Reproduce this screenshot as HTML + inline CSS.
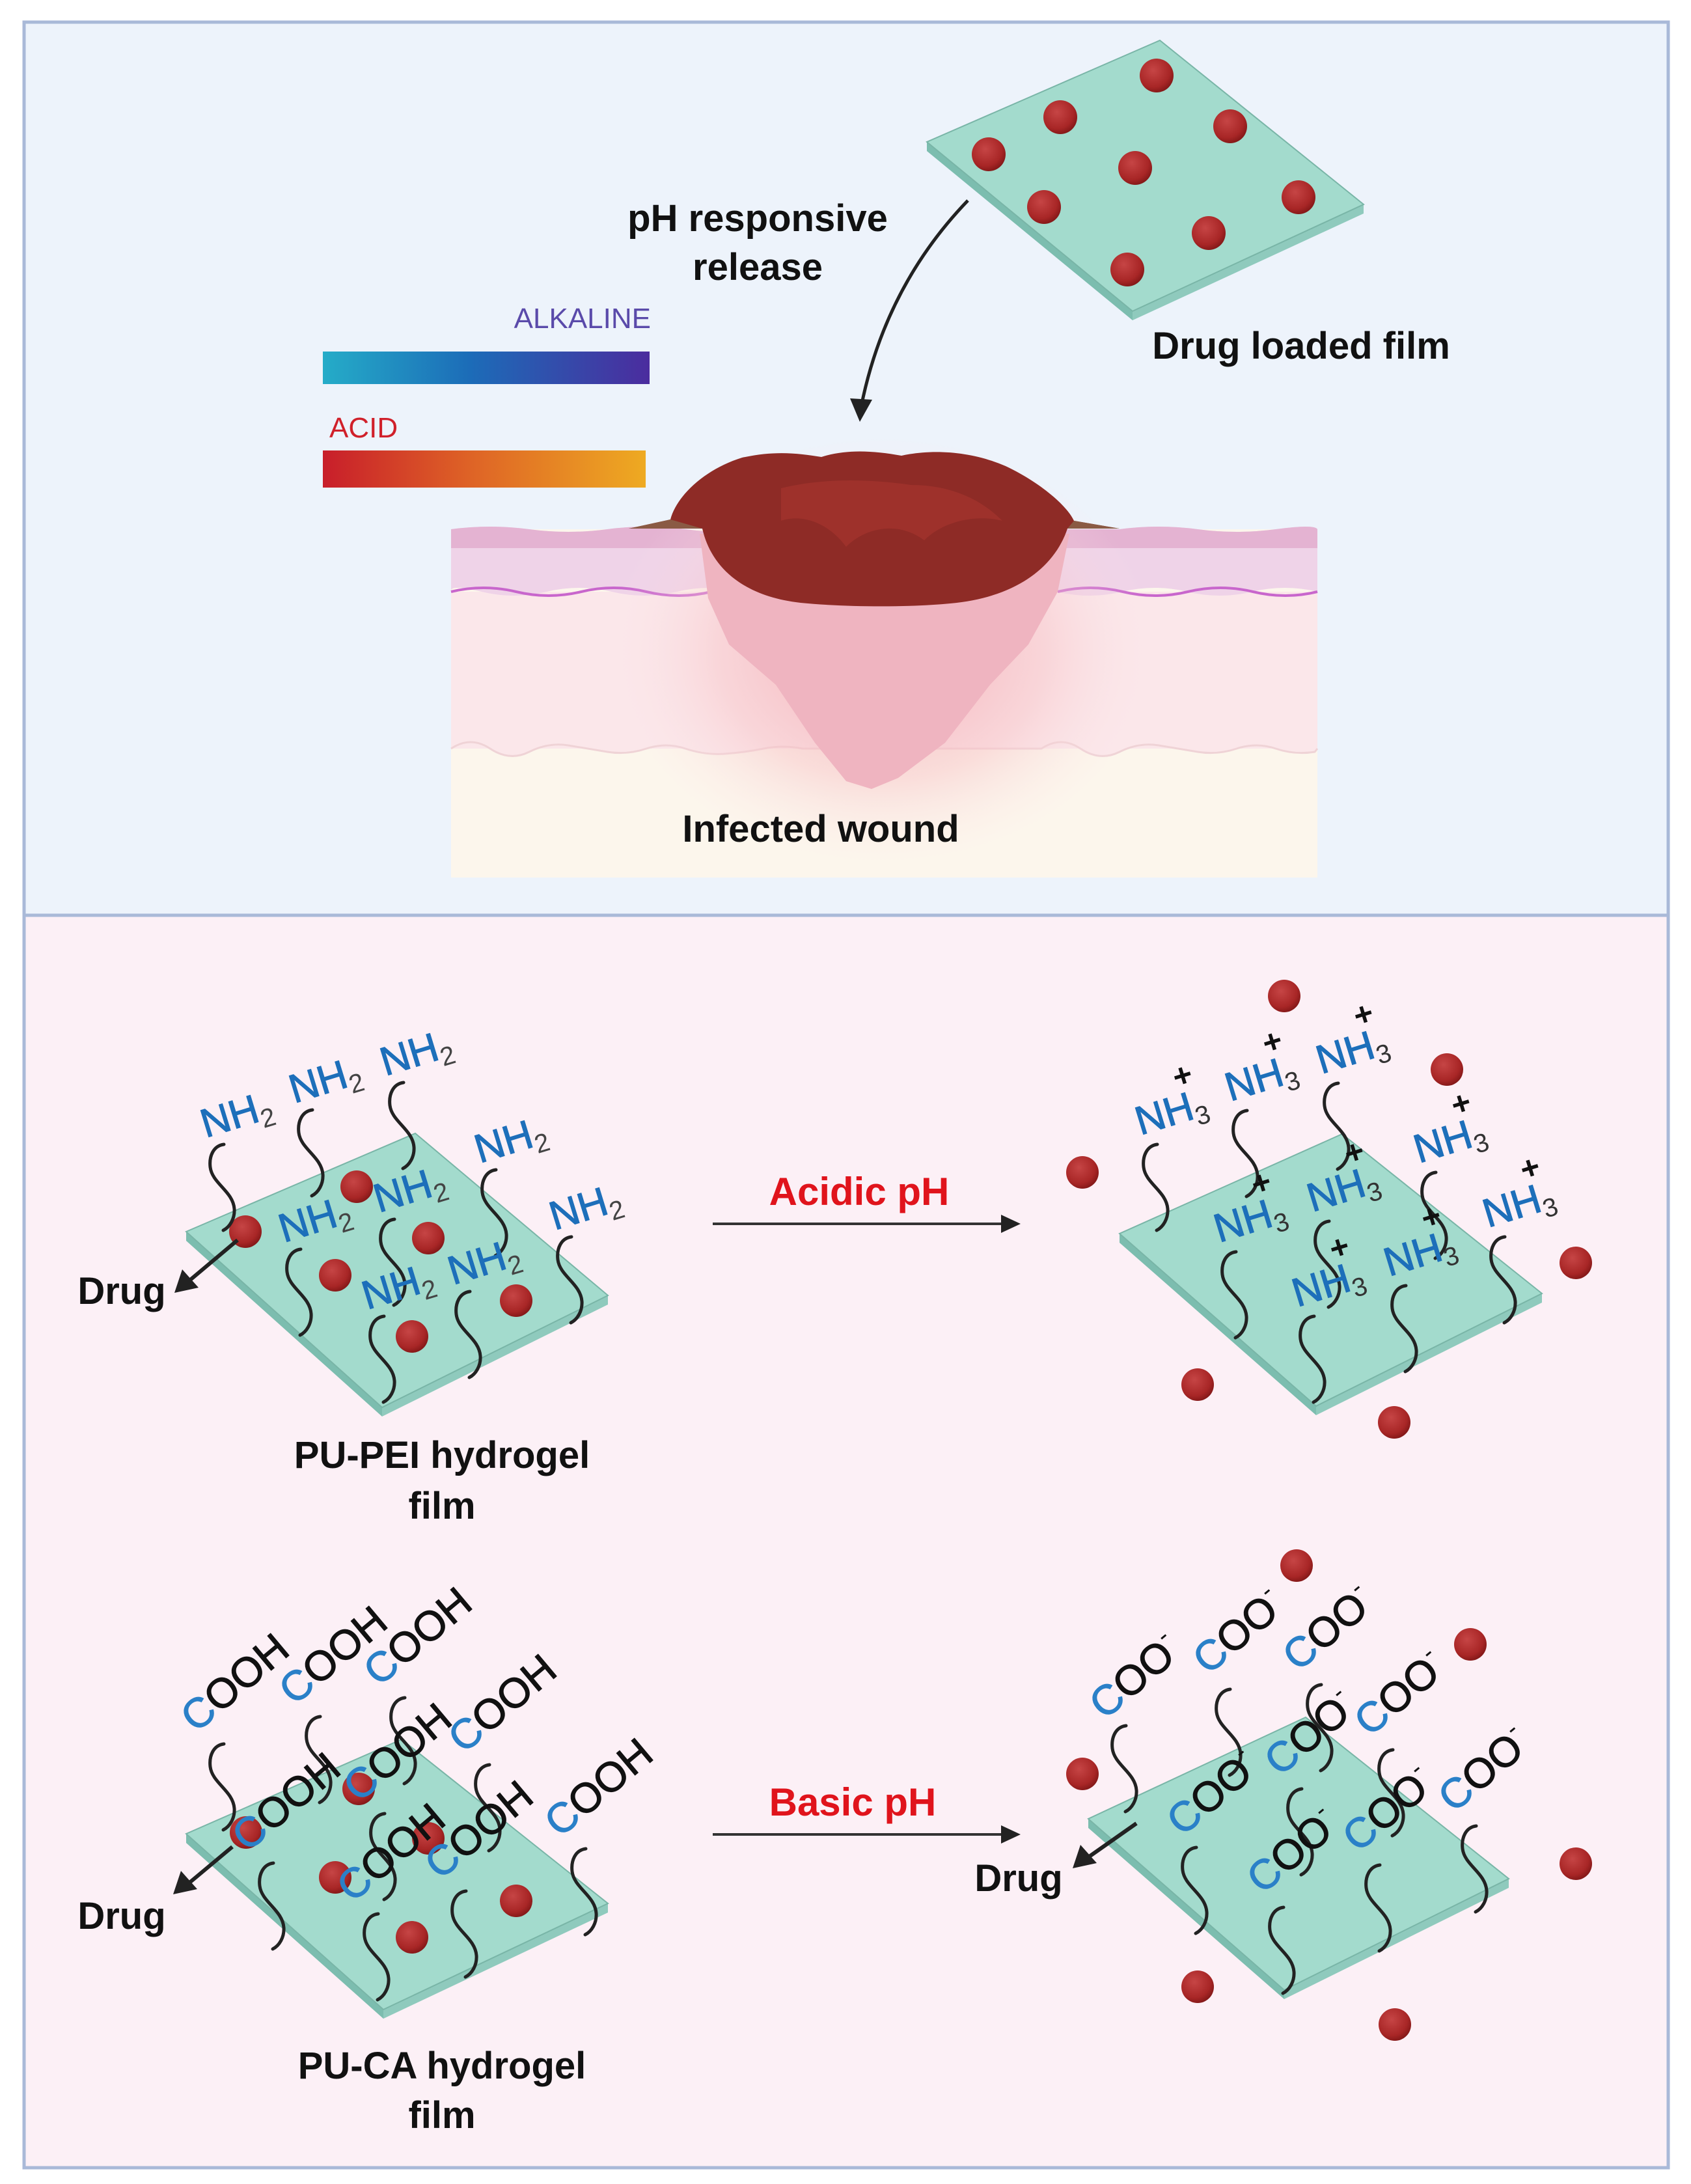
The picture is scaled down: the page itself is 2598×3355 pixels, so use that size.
<!DOCTYPE html>
<html><head><meta charset="utf-8"><style>
html,body{margin:0;padding:0;background:#fff}
svg{display:block}
text{font-family:"Liberation Sans",Arial,sans-serif}
.lb text{stroke-width:1.2px}
</style></head><body>
<svg width="2598" height="3355" viewBox="0 0 2598 3355" xmlns="http://www.w3.org/2000/svg">
<defs>
<linearGradient id="alk" x1="0" x2="1"><stop offset="0" stop-color="#25acc8"/><stop offset="0.45" stop-color="#1c6cb8"/><stop offset="1" stop-color="#4b2c9e"/></linearGradient>
<linearGradient id="acid" x1="0" x2="1"><stop offset="0" stop-color="#c81e2a"/><stop offset="0.45" stop-color="#de6226"/><stop offset="1" stop-color="#eeaa22"/></linearGradient>
<radialGradient id="dot" cx="0.4" cy="0.35" r="0.7"><stop offset="0" stop-color="#c64545"/><stop offset="0.7" stop-color="#a82626"/><stop offset="1" stop-color="#7e1616"/></radialGradient>
<radialGradient id="glow" cx="0.5" cy="0.5" r="0.5"><stop offset="0" stop-color="#f4a3ad" stop-opacity="0.9"/><stop offset="0.6" stop-color="#f7c4c8" stop-opacity="0.5"/><stop offset="1" stop-color="#fbe7ea" stop-opacity="0"/></radialGradient>
<path id="sq" d="M0,0 c-16,2 -23,18 -21,35 c3,25 35,37 37,64 c1,15 -7,28 -17,33" fill="none" stroke="#222" stroke-width="5" stroke-linecap="round"/>
</defs>

<rect x="37" y="34" width="2526" height="1372" fill="#edf3fb" stroke="#a9b9d8" stroke-width="5"/>
<rect x="37" y="1406" width="2526" height="1924" fill="#fcf0f6" stroke="#a9b9d8" stroke-width="5"/>

<!-- top film -->
<polygon points="1424,218 1740,478 1740,492 1424,232" fill="#7cbdaf"/>
<polygon points="1740,478 2095,314 2095,328 1740,492" fill="#8fcabd"/>
<polygon points="1782,62 2095,314 1740,478 1424,218" fill="#a3dbcd" stroke="#79b5a7" stroke-width="2"/>
<g fill="url(#dot)">
<circle cx="1777" cy="116" r="26"/><circle cx="1629" cy="180" r="26"/><circle cx="1890" cy="194" r="26"/>
<circle cx="1519" cy="237" r="26"/><circle cx="1744" cy="258" r="26"/><circle cx="1604" cy="318" r="26"/>
<circle cx="1995" cy="303" r="26"/><circle cx="1857" cy="358" r="26"/><circle cx="1732" cy="414" r="26"/>
</g>
<text x="1999" y="551" font-size="58" font-weight="bold" text-anchor="middle" fill="#111">Drug loaded film</text>
<text x="1164" y="355" font-size="58" font-weight="bold" text-anchor="middle" fill="#111">pH responsive</text>
<text x="1164" y="430" font-size="58" font-weight="bold" text-anchor="middle" fill="#111">release</text>
<path d="M1487,308 Q1360,440 1323,625" fill="none" stroke="#222" stroke-width="5"/>
<polygon points="1306,612 1340,614 1321,648" fill="#222"/>

<text x="1000" y="504" font-size="44" text-anchor="end" fill="#5a4aaa">ALKALINE</text>
<rect x="496" y="540" width="502" height="50" fill="url(#alk)"/>
<text x="506" y="672" font-size="44" fill="#d0202a">ACID</text>
<rect x="496" y="692" width="496" height="57" fill="url(#acid)"/>

<!-- skin -->
<rect x="693" y="813" width="1331" height="535" fill="#fcf6ec"/>
<rect x="693" y="909" width="1331" height="241" fill="#fbe7ea"/>
<path d="M693,1150 q30,-20 60,0 t60,5 t60,-10 t60,10 t60,-5 t60,0 t60,8 t60,-8 t60,0 L1600,1150 q30,-20 60,0 t60,5 t60,-10 t60,10 t60,-5 t60,0 t60,5 L2024,1150" fill="#fbe7ea" stroke="#efd3d6" stroke-width="3"/>
<path d="M693,813 q60,-8 120,0 t120,0 t120,0 t120,0 L1720,813 q60,-8 120,0 t120,0 t64,0 L2024,909 q-50,-12 -100,0 t-100,0 t-100,0 t-100,0 t-100,0 L1140,909 q-50,-12 -100,0 t-100,0 t-100,0 t-100,0 t-47,0 Z" fill="#efd3e8"/>
<path d="M693,813 q60,-8 120,0 t120,0 t120,0 t120,0 L1720,813 q60,-8 120,0 t120,0 t64,0 L2024,842 L693,842 Z" fill="#e4b3d2"/>
<path d="M693,909 q50,-12 100,0 t100,0 t100,0 t100,0 t47,0 M1625,909 q50,-12 100,0 t100,0 t100,0 t99,0" fill="none" stroke="#c866cc" stroke-width="4"/>
<ellipse cx="1355" cy="1000" rx="420" ry="330" fill="url(#glow)"/>
<path d="M1075,820 L1088,919 L1120,990 L1192,1052 L1252,1141 L1300,1200 L1339,1212 L1380,1195 L1452,1141 L1521,1052 L1580,990 L1625,909 L1643,820 Z" fill="#efb4c0"/>
<path d="M966,812 L1030,798 C1040,760 1085,720 1140,703 C1190,692 1225,696 1262,702 C1300,690 1340,692 1385,700 C1430,690 1490,692 1545,716 C1600,742 1640,778 1650,800 L1720,812 L1640,812 C1620,872 1560,918 1460,927 C1400,933 1300,933 1230,926 C1140,916 1092,870 1079,812 Z" fill="#8e2b26"/>
<path d="M966,812 L1030,798 L1079,812Z M1650,800 L1720,812 L1640,812Z" fill="#8a5a44"/>
<path d="M1200,750 C1260,735 1330,735 1400,745 C1450,745 1500,760 1540,800 C1500,790 1450,800 1420,830 C1380,800 1330,810 1300,840 C1270,800 1230,790 1200,800 Z" fill="#a8352f" opacity="0.6"/>
<text x="1261" y="1293" font-size="58" font-weight="bold" text-anchor="middle" fill="#111">Infected wound</text>

<!-- Row 1 left -->
<polygon points="286,1892 587,2162 587,2176 286,1906" fill="#7cbdaf"/>
<polygon points="587,2162 934,1990 934,2004 587,2176" fill="#8fcabd"/>
<polygon points="638,1741 934,1990 587,2162 286,1892" fill="#a3dbcd" stroke="#79b5a7" stroke-width="2"/>
<g fill="url(#dot)">
<circle cx="377" cy="1892" r="25"/><circle cx="548" cy="1823" r="25"/><circle cx="658" cy="1902" r="25"/>
<circle cx="515" cy="1959" r="25"/><circle cx="793" cy="1998" r="25"/><circle cx="633" cy="2053" r="25"/>
</g>
<g>
<use href="#sq" x="344" y="1758"/><use href="#sq" x="480" y="1705"/><use href="#sq" x="620" y="1663"/>
<use href="#sq" x="762" y="1797"/><use href="#sq" x="462" y="1919"/><use href="#sq" x="606" y="1873"/>
<use href="#sq" x="878" y="1900"/><use href="#sq" x="590" y="2022"/><use href="#sq" x="722" y="1984"/>
</g>
<g font-size="62" class="lb">
<text transform="translate(316,1748) rotate(-17)"><tspan fill="#1d6fba" stroke="#1d6fba">NH</tspan><tspan fill="#444" font-size="40" dy="12">2</tspan></text>
<text transform="translate(452,1695) rotate(-17)"><tspan fill="#1d6fba" stroke="#1d6fba">NH</tspan><tspan fill="#444" font-size="40" dy="12">2</tspan></text>
<text transform="translate(592,1653) rotate(-17)"><tspan fill="#1d6fba" stroke="#1d6fba">NH</tspan><tspan fill="#444" font-size="40" dy="12">2</tspan></text>
<text transform="translate(737,1787) rotate(-17)"><tspan fill="#1d6fba" stroke="#1d6fba">NH</tspan><tspan fill="#444" font-size="40" dy="12">2</tspan></text>
<text transform="translate(436,1909) rotate(-17)"><tspan fill="#1d6fba" stroke="#1d6fba">NH</tspan><tspan fill="#444" font-size="40" dy="12">2</tspan></text>
<text transform="translate(582,1863) rotate(-17)"><tspan fill="#1d6fba" stroke="#1d6fba">NH</tspan><tspan fill="#444" font-size="40" dy="12">2</tspan></text>
<text transform="translate(852,1890) rotate(-17)"><tspan fill="#1d6fba" stroke="#1d6fba">NH</tspan><tspan fill="#444" font-size="40" dy="12">2</tspan></text>
<text transform="translate(564,2012) rotate(-17)"><tspan fill="#1d6fba" stroke="#1d6fba">NH</tspan><tspan fill="#444" font-size="40" dy="12">2</tspan></text>
<text transform="translate(696,1974) rotate(-17)"><tspan fill="#1d6fba" stroke="#1d6fba">NH</tspan><tspan fill="#444" font-size="40" dy="12">2</tspan></text>
</g>
<line x1="365" y1="1905" x2="290" y2="1968" stroke="#222" stroke-width="6"/>
<polygon points="268,1986 280,1950 305,1978" fill="#222"/>
<text x="187" y="2003" font-size="58" font-weight="bold" text-anchor="middle" fill="#111">Drug</text>
<text x="679" y="2255" font-size="58" font-weight="bold" text-anchor="middle" fill="#111">PU-PEI hydrogel</text>
<text x="679" y="2333" font-size="58" font-weight="bold" text-anchor="middle" fill="#111">film</text>

<text x="1320" y="1851" font-size="60" font-weight="bold" text-anchor="middle" fill="#e0141c">Acidic pH</text>
<line x1="1095" y1="1880" x2="1545" y2="1880" stroke="#333" stroke-width="4"/>
<polygon points="1568,1880 1538,1866 1538,1894" fill="#222"/>

<!-- Row 1 right -->
<polygon points="1720,1895 2022,2160 2022,2174 1720,1909" fill="#7cbdaf"/>
<polygon points="2022,2160 2369,1987 2369,2001 2022,2174" fill="#8fcabd"/>
<polygon points="2062,1742 2369,1987 2022,2160 1720,1895" fill="#a3dbcd" stroke="#79b5a7" stroke-width="2"/>
<g fill="url(#dot)">
<circle cx="1973" cy="1530" r="25"/><circle cx="2223" cy="1643" r="25"/><circle cx="1663" cy="1801" r="25"/>
<circle cx="2421" cy="1940" r="25"/><circle cx="1840" cy="2127" r="25"/><circle cx="2142" cy="2185" r="25"/>
</g>
<g>
<use href="#sq" x="1778" y="1758"/><use href="#sq" x="1916" y="1706"/><use href="#sq" x="2056" y="1664"/>
<use href="#sq" x="2206" y="1801"/><use href="#sq" x="1899" y="1923"/><use href="#sq" x="2042" y="1876"/>
<use href="#sq" x="2312" y="1900"/><use href="#sq" x="2019" y="2022"/><use href="#sq" x="2160" y="1975"/>
</g>
<g font-size="62" class="lb">
<g transform="translate(1752,1744) rotate(-17)"><text><tspan fill="#1d6fba" stroke="#1d6fba">NH</tspan><tspan fill="#333" font-size="40" dy="12">3</tspan></text><text x="74" y="-52" font-size="50" font-weight="bold" fill="#111">+</text></g>
<g transform="translate(1890,1692) rotate(-17)"><text><tspan fill="#1d6fba" stroke="#1d6fba">NH</tspan><tspan fill="#333" font-size="40" dy="12">3</tspan></text><text x="74" y="-52" font-size="50" font-weight="bold" fill="#111">+</text></g>
<g transform="translate(2030,1650) rotate(-17)"><text><tspan fill="#1d6fba" stroke="#1d6fba">NH</tspan><tspan fill="#333" font-size="40" dy="12">3</tspan></text><text x="74" y="-52" font-size="50" font-weight="bold" fill="#111">+</text></g>
<g transform="translate(2180,1787) rotate(-17)"><text><tspan fill="#1d6fba" stroke="#1d6fba">NH</tspan><tspan fill="#333" font-size="40" dy="12">3</tspan></text><text x="74" y="-52" font-size="50" font-weight="bold" fill="#111">+</text></g>
<g transform="translate(1873,1909) rotate(-17)"><text><tspan fill="#1d6fba" stroke="#1d6fba">NH</tspan><tspan fill="#333" font-size="40" dy="12">3</tspan></text><text x="74" y="-52" font-size="50" font-weight="bold" fill="#111">+</text></g>
<g transform="translate(2016,1862) rotate(-17)"><text><tspan fill="#1d6fba" stroke="#1d6fba">NH</tspan><tspan fill="#333" font-size="40" dy="12">3</tspan></text><text x="74" y="-52" font-size="50" font-weight="bold" fill="#111">+</text></g>
<g transform="translate(2286,1886) rotate(-17)"><text><tspan fill="#1d6fba" stroke="#1d6fba">NH</tspan><tspan fill="#333" font-size="40" dy="12">3</tspan></text><text x="74" y="-52" font-size="50" font-weight="bold" fill="#111">+</text></g>
<g transform="translate(1993,2008) rotate(-17)"><text><tspan fill="#1d6fba" stroke="#1d6fba">NH</tspan><tspan fill="#333" font-size="40" dy="12">3</tspan></text><text x="74" y="-52" font-size="50" font-weight="bold" fill="#111">+</text></g>
<g transform="translate(2134,1961) rotate(-17)"><text><tspan fill="#1d6fba" stroke="#1d6fba">NH</tspan><tspan fill="#333" font-size="40" dy="12">3</tspan></text><text x="74" y="-52" font-size="50" font-weight="bold" fill="#111">+</text></g>
</g>

<!-- Row 2 left -->
<polygon points="286,2817 589,3087 589,3101 286,2831" fill="#7cbdaf"/>
<polygon points="589,3087 934,2924 934,2938 589,3101" fill="#8fcabd"/>
<polygon points="617,2672 934,2924 589,3087 286,2817" fill="#a3dbcd" stroke="#79b5a7" stroke-width="2"/>
<g fill="url(#dot)">
<circle cx="378" cy="2815" r="25"/><circle cx="551" cy="2748" r="25"/><circle cx="658" cy="2824" r="25"/>
<circle cx="515" cy="2884" r="25"/><circle cx="793" cy="2920" r="25"/><circle cx="633" cy="2976" r="25"/>
</g>
<g>
<use href="#sq" x="344" y="2679"/><use href="#sq" x="492" y="2637"/><use href="#sq" x="622" y="2608"/>
<use href="#sq" x="752" y="2711"/><use href="#sq" x="420" y="2862"/><use href="#sq" x="591" y="2786"/>
<use href="#sq" x="900" y="2840"/><use href="#sq" x="581" y="2940"/><use href="#sq" x="716" y="2905"/>
</g>
<g font-size="64" class="lb">
<text transform="translate(301,2663) rotate(-40)"><tspan fill="#2a80c8" stroke="#2a80c8">C</tspan><tspan fill="#111" stroke="#111">OOH</tspan></text>
<text transform="translate(452,2621) rotate(-40)"><tspan fill="#2a80c8" stroke="#2a80c8">C</tspan><tspan fill="#111" stroke="#111">OOH</tspan></text>
<text transform="translate(582,2592) rotate(-40)"><tspan fill="#2a80c8" stroke="#2a80c8">C</tspan><tspan fill="#111" stroke="#111">OOH</tspan></text>
<text transform="translate(712,2695) rotate(-40)"><tspan fill="#2a80c8" stroke="#2a80c8">C</tspan><tspan fill="#111" stroke="#111">OOH</tspan></text>
<text transform="translate(380,2846) rotate(-40)"><tspan fill="#2a80c8" stroke="#2a80c8">C</tspan><tspan fill="#111" stroke="#111">OOH</tspan></text>
<text transform="translate(551,2770) rotate(-40)"><tspan fill="#2a80c8" stroke="#2a80c8">C</tspan><tspan fill="#111" stroke="#111">OOH</tspan></text>
<text transform="translate(860,2824) rotate(-40)"><tspan fill="#2a80c8" stroke="#2a80c8">C</tspan><tspan fill="#111" stroke="#111">OOH</tspan></text>
<text transform="translate(541,2924) rotate(-40)"><tspan fill="#2a80c8" stroke="#2a80c8">C</tspan><tspan fill="#111" stroke="#111">OOH</tspan></text>
<text transform="translate(676,2889) rotate(-40)"><tspan fill="#2a80c8" stroke="#2a80c8">C</tspan><tspan fill="#111" stroke="#111">OOH</tspan></text>
</g>
<line x1="357" y1="2837" x2="290" y2="2893" stroke="#222" stroke-width="6"/>
<polygon points="266,2910 278,2874 303,2902" fill="#222"/>
<text x="187" y="2963" font-size="58" font-weight="bold" text-anchor="middle" fill="#111">Drug</text>
<text x="679" y="3193" font-size="58" font-weight="bold" text-anchor="middle" fill="#111">PU-CA hydrogel</text>
<text x="679" y="3269" font-size="58" font-weight="bold" text-anchor="middle" fill="#111">film</text>

<text x="1310" y="2789" font-size="60" font-weight="bold" text-anchor="middle" fill="#e0141c">Basic pH</text>
<line x1="1095" y1="2818" x2="1545" y2="2818" stroke="#333" stroke-width="4"/>
<polygon points="1568,2818 1538,2804 1538,2832" fill="#222"/>

<!-- Row 2 right -->
<polygon points="1672,2794 1973,3057 1973,3071 1672,2808" fill="#7cbdaf"/>
<polygon points="1973,3057 2318,2886 2318,2900 1973,3071" fill="#8fcabd"/>
<polygon points="2006,2638 2318,2886 1973,3057 1672,2794" fill="#a3dbcd" stroke="#79b5a7" stroke-width="2"/>
<g fill="url(#dot)">
<circle cx="1992" cy="2405" r="25"/><circle cx="2259" cy="2526" r="25"/><circle cx="1663" cy="2725" r="25"/>
<circle cx="2421" cy="2863" r="25"/><circle cx="1840" cy="3052" r="25"/><circle cx="2143" cy="3110" r="25"/>
</g>
<g>
<use href="#sq" x="1730" y="2651"/><use href="#sq" x="1890" y="2595"/><use href="#sq" x="2030" y="2588"/>
<use href="#sq" x="2140" y="2688"/><use href="#sq" x="1838" y="2838"/><use href="#sq" x="2000" y="2748"/>
<use href="#sq" x="2268" y="2805"/><use href="#sq" x="1972" y="2930"/><use href="#sq" x="2120" y="2865"/>
</g>
<g font-size="64" class="lb">
<text transform="translate(1697,2643) rotate(-40)"><tspan fill="#2a80c8" stroke="#2a80c8">C</tspan><tspan fill="#111" stroke="#111">OO</tspan><tspan fill="#111" font-size="38" dy="-30">-</tspan></text>
<text transform="translate(1856,2574) rotate(-40)"><tspan fill="#2a80c8" stroke="#2a80c8">C</tspan><tspan fill="#111" stroke="#111">OO</tspan><tspan fill="#111" font-size="38" dy="-30">-</tspan></text>
<text transform="translate(1994,2569) rotate(-40)"><tspan fill="#2a80c8" stroke="#2a80c8">C</tspan><tspan fill="#111" stroke="#111">OO</tspan><tspan fill="#111" font-size="38" dy="-30">-</tspan></text>
<text transform="translate(2104,2669) rotate(-40)"><tspan fill="#2a80c8" stroke="#2a80c8">C</tspan><tspan fill="#111" stroke="#111">OO</tspan><tspan fill="#111" font-size="38" dy="-30">-</tspan></text>
<text transform="translate(1816,2822) rotate(-40)"><tspan fill="#2a80c8" stroke="#2a80c8">C</tspan><tspan fill="#111" stroke="#111">OO</tspan><tspan fill="#111" font-size="38" dy="-30">-</tspan></text>
<text transform="translate(1966,2730) rotate(-40)"><tspan fill="#2a80c8" stroke="#2a80c8">C</tspan><tspan fill="#111" stroke="#111">OO</tspan><tspan fill="#111" font-size="38" dy="-30">-</tspan></text>
<text transform="translate(2233,2786) rotate(-40)"><tspan fill="#2a80c8" stroke="#2a80c8">C</tspan><tspan fill="#111" stroke="#111">OO</tspan><tspan fill="#111" font-size="38" dy="-30">-</tspan></text>
<text transform="translate(1939,2911) rotate(-40)"><tspan fill="#2a80c8" stroke="#2a80c8">C</tspan><tspan fill="#111" stroke="#111">OO</tspan><tspan fill="#111" font-size="38" dy="-30">-</tspan></text>
<text transform="translate(2086,2847) rotate(-40)"><tspan fill="#2a80c8" stroke="#2a80c8">C</tspan><tspan fill="#111" stroke="#111">OO</tspan><tspan fill="#111" font-size="38" dy="-30">-</tspan></text>
</g>
<line x1="1746" y1="2801" x2="1672" y2="2853" stroke="#222" stroke-width="6"/>
<polygon points="1648,2870 1660,2834 1685,2862" fill="#222"/>
<text x="1565" y="2905" font-size="58" font-weight="bold" text-anchor="middle" fill="#111">Drug</text>
</svg>
</body></html>
